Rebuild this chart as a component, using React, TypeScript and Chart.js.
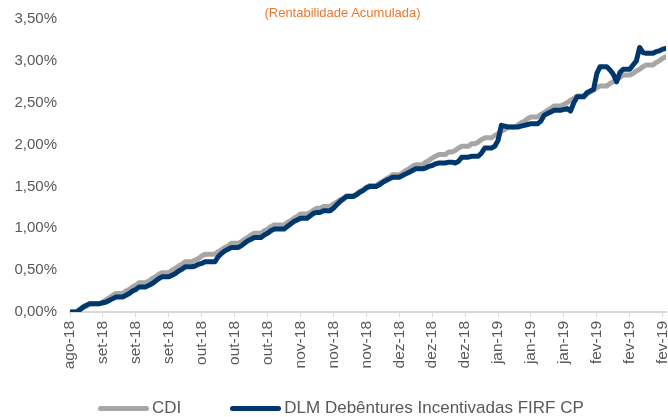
import React, { useEffect, useRef } from "react";
import { Chart, registerables } from "chart.js";

Chart.register(...registerables);

const title = "(Rentabilidade Acumulada)";
const seriesNames = ["CDI", "DLM Debêntures Incentivadas FIRF CP"];
const seriesColors = ["#A6A6A6", "#00386E"];

// x tick labels, one every 10 days starting at index 0
const tickLabels = [
  "ago-18", "set-18", "set-18", "set-18", "out-18", "out-18", "out-18",
  "nov-18", "nov-18", "nov-18", "dez-18", "dez-18", "dez-18",
  "jan-19", "jan-19", "jan-19", "fev-19", "fev-19", "fev-19",
];
const labelStep = 10;

const yTicks = [0, 0.5, 1, 1.5, 2, 2.5, 3, 3.5];

// accumulated return, %, daily
const cdi = [
  0.00,0.00,0.00,0.02,0.05,0.07,0.10,0.10,0.10,0.10,
  0.12,0.15,0.17,0.20,0.22,0.22,0.22,0.25,0.27,0.30,
  0.32,0.35,0.35,0.35,0.37,0.40,0.42,0.45,0.47,0.47,
  0.47,0.50,0.52,0.55,0.57,0.60,0.60,0.60,0.62,0.64,
  0.67,0.69,0.69,0.69,0.69,0.72,0.74,0.77,0.79,0.82,
  0.82,0.82,0.84,0.87,0.89,0.92,0.94,0.94,0.94,0.97,
  0.99,1.02,1.04,1.04,1.04,1.04,1.07,1.09,1.12,1.14,
  1.17,1.17,1.17,1.19,1.22,1.24,1.24,1.26,1.26,1.26,
  1.29,1.31,1.34,1.36,1.39,1.39,1.39,1.41,1.44,1.46,
  1.49,1.51,1.51,1.51,1.54,1.56,1.59,1.61,1.64,1.64,
  1.64,1.66,1.69,1.71,1.74,1.76,1.76,1.76,1.79,1.81,
  1.84,1.86,1.88,1.88,1.88,1.91,1.91,1.93,1.96,1.98,
  1.98,1.98,2.01,2.01,2.03,2.06,2.08,2.08,2.08,2.11,
  2.13,2.16,2.18,2.21,2.21,2.21,2.23,2.26,2.28,2.31,
  2.33,2.33,2.33,2.36,2.38,2.41,2.43,2.46,2.46,2.46,
  2.48,2.50,2.53,2.55,2.58,2.58,2.58,2.60,2.63,2.65,
  2.68,2.70,2.70,2.70,2.73,2.75,2.78,2.80,2.83,2.83,
  2.83,2.85,2.88,2.90,2.93,2.95,2.95,2.95,2.98,3.00,
  3.03,3.05,
];

const dlm = [
  0.00,0.00,0.00,0.03,0.06,0.08,0.10,0.10,0.10,0.10,
  0.11,0.12,0.14,0.16,0.18,0.18,0.18,0.20,0.22,0.25,
  0.27,0.30,0.30,0.30,0.32,0.34,0.37,0.40,0.42,0.42,
  0.42,0.44,0.46,0.49,0.51,0.54,0.54,0.54,0.55,0.57,
  0.58,0.60,0.60,0.60,0.60,0.66,0.70,0.73,0.75,0.77,
  0.77,0.77,0.79,0.82,0.85,0.87,0.89,0.89,0.89,0.92,
  0.94,0.97,0.99,0.99,0.99,0.99,1.02,1.05,1.08,1.10,
  1.12,1.12,1.12,1.15,1.18,1.19,1.19,1.21,1.21,1.21,
  1.24,1.28,1.32,1.35,1.38,1.38,1.38,1.40,1.43,1.45,
  1.48,1.50,1.50,1.50,1.52,1.55,1.57,1.59,1.61,1.61,
  1.61,1.63,1.65,1.67,1.69,1.71,1.71,1.71,1.72,1.74,
  1.75,1.77,1.78,1.78,1.78,1.79,1.79,1.78,1.80,1.85,
  1.85,1.85,1.86,1.86,1.86,1.90,1.96,1.96,1.96,1.98,
  2.05,2.23,2.22,2.21,2.21,2.21,2.21,2.22,2.23,2.24,
  2.25,2.25,2.25,2.28,2.35,2.37,2.39,2.41,2.41,2.41,
  2.42,2.43,2.40,2.50,2.57,2.57,2.57,2.62,2.64,2.66,
  2.85,2.93,2.93,2.93,2.89,2.84,2.75,2.86,2.90,2.90,
  2.90,2.95,3.00,3.16,3.10,3.09,3.09,3.09,3.11,3.12,
  3.14,3.15,
];

const FONT = "'Liberation Sans', Arial, sans-serif";
const TEXT = "#595959";

export default function App() {
  const ref = useRef<HTMLCanvasElement | null>(null);

  useEffect(() => {
    if (!ref.current) return;
    const chart = new Chart(ref.current, {
      type: "line",
      data: {
        datasets: [
          {
            label: seriesNames[1],
            data: dlm.map((y, i) => ({ x: i, y })),
            borderColor: seriesColors[1],
            backgroundColor: seriesColors[1],
            borderWidth: 5,
            pointRadius: 0,
            tension: 0,
            borderJoinStyle: "round",
            borderCapStyle: "round",
            order: 0,
          },
          {
            label: seriesNames[0],
            data: cdi.map((y, i) => ({ x: i, y })),
            borderColor: seriesColors[0],
            backgroundColor: seriesColors[0],
            borderWidth: 5,
            pointRadius: 0,
            tension: 0,
            borderJoinStyle: "round",
            borderCapStyle: "round",
            order: 1,
          },
        ],
      },
      options: {
        animation: false,
        responsive: true,
        maintainAspectRatio: false,
        layout: { padding: { top: 19, right: 2, left: 0, bottom: 0 } },
        plugins: {
          legend: { display: false },
          title: { display: false },
          tooltip: { enabled: false },
        },
        scales: {
          x: {
            type: "linear",
            min: 0,
            max: dlm.length - 1,
            afterFit: (s: any) => {
              s.height = 105;
              s.paddingLeft = 0;
              s.paddingRight = 0;
            },
            ticks: {
              stepSize: labelStep,
              includeBounds: false,
              autoSkip: false,
              minRotation: 90,
              maxRotation: 90,
              padding: 4,
              color: TEXT,
              font: { family: FONT, size: 15.5 },
              callback: (v: any) => {
                const k = Math.round(Number(v) / labelStep);
                return tickLabels[k] ?? "";
              },
            },
            grid: {
              display: true,
              drawOnChartArea: false,
              drawTicks: true,
              tickLength: 5,
              color: "#D9D9D9",
              lineWidth: 1,
            },
            border: { display: true, color: "#D9D9D9", width: 2 },
          },
          y: {
            min: 0,
            max: yTicks[yTicks.length - 1],
            afterFit: (s: any) => {
              s.width = 70;
              s.paddingTop = 0;
              s.paddingBottom = 0;
            },
            afterBuildTicks: (s: any) => {
              s.ticks = yTicks.map((v) => ({ value: v }));
            },
            ticks: {
              padding: 13,
              color: TEXT,
              font: { family: FONT, size: 15 },
              callback: (v: any) => Number(v).toFixed(2).replace(".", ",") + "%",
            },
            grid: { display: false, drawTicks: false },
            border: { display: false },
          },
        },
      },
    });
    return () => chart.destroy();
  }, []);

  const legendLine = (color: string) => ({
    display: "inline-block",
    width: 51,
    height: 5,
    borderRadius: 3,
    background: color,
    marginRight: 3,
    verticalAlign: "middle",
  });

  return (
    <div
      style={{
        position: "fixed",
        left: 0,
        top: 0,
        width: 668,
        height: 417,
        background: "#ffffff",
        fontFamily: FONT,
      }}
    >
      <canvas ref={ref} />
      <div
        style={{
          position: "absolute",
          left: 0,
          width: 685,
          top: 5,
          textAlign: "center",
          fontSize: 13,
          lineHeight: "15px",
          color: "#E8792A",
        }}
      >
        {title}
      </div>
      <div
        style={{
          position: "absolute",
          left: 98,
          top: 398,
          fontSize: 17,
          lineHeight: "20px",
          color: TEXT,
          whiteSpace: "nowrap",
          display: "flex",
          alignItems: "center",
        }}
      >
        <span style={legendLine(seriesColors[0])} />
        <span style={{ marginRight: 49 }}>{seriesNames[0]}</span>
        <span style={legendLine(seriesColors[1])} />
        <span>{seriesNames[1]}</span>
      </div>
    </div>
  );
}
